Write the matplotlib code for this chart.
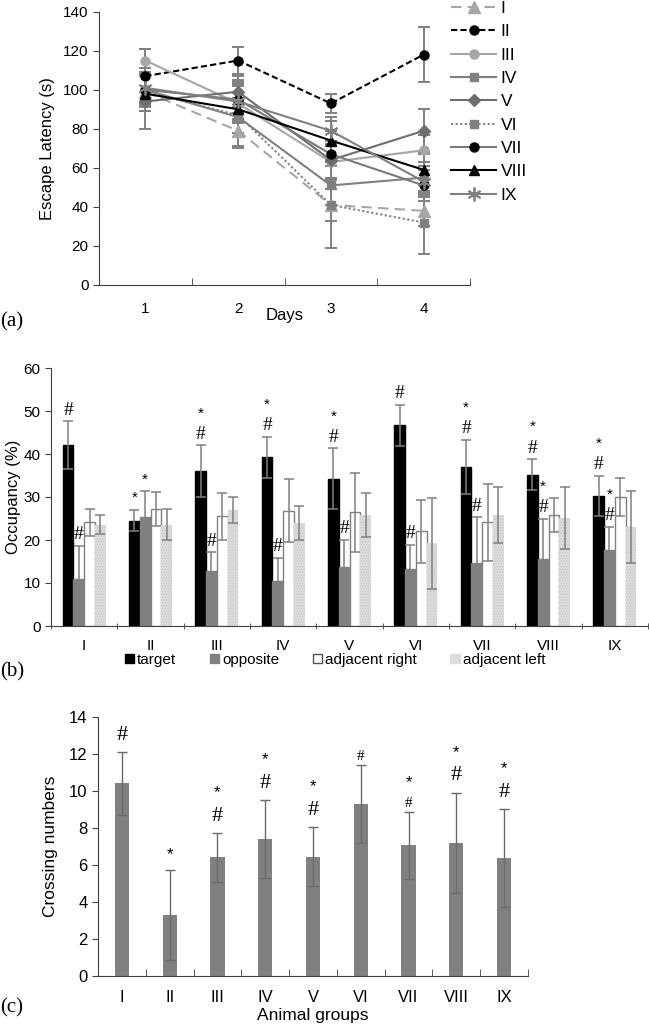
import matplotlib
matplotlib.use("Agg")
import matplotlib.pyplot as plt
import numpy as np
from matplotlib.patches import Patch
from matplotlib.lines import Line2D

plt.rcParams['font.family'] = ['Liberation Sans', 'DejaVu Sans']
plt.rcParams['hatch.linewidth'] = 0.6

# ---------------- data ----------------
days = [1, 2, 3, 4]
day_labels = ['1', '2', '3', '4']
series_names = ['I', 'II', 'III', 'IV', 'V', 'VI', 'VII', 'VIII', 'IX']
lat_I = [99, 79, 41, 38]
lat_II = [107, 115, 93, 118]
lat_III = [115, 93, 63, 69]
lat_IV = [100, 86, 51, 55]
lat_V = [94, 99, 64, 79]
lat_VI = [99, 87, 41, 32]
lat_VII = [100, 95, 67, 51]
lat_VIII = [98, 90, 74, 59]
lat_IX = [101, 94, 79, 53]
err_I = [10, 9, 8, 8]
err_II = [14, 7, 5, 14]
err_III = [6, 10, 8, 8]
err_IV = [8, 10, 10, 8]
err_V = [14, 8, 10, 11]
err_VI = [10, 16, 22, 16]
err_VII = [8, 10, 12, 8]
err_VIII = [9, 12, 10, 8]
err_IX = [10, 10, 7, 8]

groups = ['I', 'II', 'III', 'IV', 'V', 'VI', 'VII', 'VIII', 'IX']
occ_target = [42.1, 24.5, 36.0, 39.2, 34.2, 46.7, 37.0, 35.2, 30.2]
occ_target_err = [5.5, 2.5, 6.0, 4.8, 7.1, 4.8, 6.3, 3.6, 4.7]
occ_opposite = [11.0, 25.3, 12.7, 10.5, 13.7, 13.3, 14.7, 15.5, 17.7]
occ_opposite_err = [7.6, 6.0, 4.4, 5.3, 6.3, 5.6, 10.6, 9.4, 5.3]
occ_adj_right = [24.1, 27.2, 25.5, 26.8, 26.4, 22.0, 24.1, 25.8, 30.0]
occ_adj_right_err = [3.2, 4.0, 5.5, 7.3, 9.2, 7.3, 9.0, 3.9, 4.4]
occ_adj_left = [23.6, 23.6, 27.0, 24.0, 25.8, 19.2, 25.8, 25.1, 23.0]
occ_adj_left_err = [2.1, 3.6, 3.0, 4.0, 5.1, 10.5, 6.5, 7.3, 8.4]
marks_target = ['#', '*', '*#', '*#', '*#', '#', '*#', '*#', '*#']
marks_opposite = ['#', '*', '#', '#', '#', '#', '#', '*#', '*#']

cross = [10.4, 3.3, 6.4, 7.4, 6.45, 9.3, 7.05, 7.2, 6.35]
cross_err = [1.7, 2.45, 1.3, 2.1, 1.6, 2.1, 1.8, 2.7, 2.65]
cross_hash = ['big', 'none', 'big', 'big', 'big', 'small', 'small', 'big', 'big']
cross_star = [False, True, True, True, True, False, True, True, True]

W, H = 649, 1028
fig = plt.figure(figsize=(W / 100, H / 100), dpi=100)

def fx(px):
    return px / W

def fy(py):
    return 1 - py / H

ERRC = '#808080'

# ---------------- panel (a) ----------------
axa = fig.add_axes([fx(99), fy(285), fx(470) - fx(99), fy(11.7) - fy(285)])
styles = [
    dict(color='#a6a6a6', ls=(0, (5, 3)), marker='^', mfc='#a6a6a6', mec='#a6a6a6', ms=8),
    dict(color='#000000', ls=(0, (3, 1.5)), marker='o', mfc='#000000', mec='#000000', ms=6.5),
    dict(color='#a6a6a6', ls='-', marker='o', mfc='#a6a6a6', mec='#a6a6a6', ms=6.5),
    dict(color='#808080', ls='-', marker='s', mfc='#808080', mec='#808080', ms=6),
    dict(color='#6e6e6e', ls='-', marker='D', mfc='#6e6e6e', mec='#6e6e6e', ms=6.5),
    dict(color='#808080', ls=(0, (1, 1.2)), marker='s', mfc='#808080', mec='#808080', ms=6),
    dict(color='#7a7a7a', ls='-', marker='o', mfc='#000000', mec='#000000', ms=6.5),
    dict(color='#000000', ls='-', marker='^', mfc='#000000', mec='#000000', ms=6.5),
    dict(color='#808080', ls='-', marker=(6, 2, 0), mfc='#808080', mec='#808080', ms=10),
]
lat_all = [lat_I, lat_II, lat_III, lat_IV, lat_V, lat_VI, lat_VII, lat_VIII, lat_IX]
err_all = [err_I, err_II, err_III, err_IV, err_V, err_VI, err_VII, err_VIII, err_IX]
handles = []
for name, y, e, st in zip(series_names, lat_all, err_all, styles):
    axa.errorbar(days, y, yerr=e, fmt='none', ecolor=ERRC, elinewidth=1.4,
                 capsize=4, capthick=1.4, zorder=1)
for name, y, e, st in zip(series_names, lat_all, err_all, styles):
    mew = 1.3 if st['marker'] == (6, 2, 0) else 1
    ln, = axa.plot(days, y, color=st['color'], ls=st['ls'], lw=1.5,
                   marker=st['marker'], mfc=st['mfc'], mec=st['mec'],
                   ms=st['ms'], mew=mew, label=name, zorder=3)
    handles.append(ln)
axa.set_xlim(0.5, 4.5)
axa.set_ylim(0, 140)
axa.set_yticks(range(0, 141, 20))
axa.set_xticks(days)
axa.set_xticklabels(day_labels)
axa.set_xticks([0.5, 1.5, 2.5, 3.5, 4.5], minor=True)
axa.tick_params(axis='x', which='major', length=0, pad=12, labelsize=11)
axa.tick_params(axis='x', which='minor', length=5, direction='in', color='#404040')
axa.tick_params(axis='y', length=4, direction='out', labelsize=11, color='#404040')
for s in ['top', 'right']:
    axa.spines[s].set_visible(False)
for s in ['left', 'bottom']:
    axa.spines[s].set_color('#404040')
axa.set_ylabel('Escape Latency (s)', fontsize=12, labelpad=6)
axa.set_xlabel('Days', fontsize=12)
axa.xaxis.set_label_coords(0.5, -0.085)
fig.legend(handles=handles, loc='upper left', bbox_to_anchor=(fx(451), 0.999),
           frameon=False, fontsize=12.5, handlelength=2.6, handletextpad=0.25,
           labelspacing=0.47, borderpad=0, borderaxespad=0)
fig.text(0.0, fy(322), '(a)', family='Liberation Serif', fontsize=15, va='center')

# ---------------- panel (b) ----------------
axb = fig.add_axes([fx(51), fy(626), fx(648) - fx(51), fy(368) - fy(626)])
x = np.arange(len(groups))
bw = 0.161
offs = [-1.5 * bw, -0.5 * bw, 0.5 * bw, 1.5 * bw]
vals = [occ_target, occ_opposite, occ_adj_right, occ_adj_left]
errs = [occ_target_err, occ_opposite_err, occ_adj_right_err, occ_adj_left_err]
fcs = ['#000000', '#808080', '#ffffff', '#dcdcdc']
ecs = ['#000000', '#808080', '#808080', '#dcdcdc']
hatches = [None, None, None, '......']
labels_b = ['target', 'opposite', 'adjacent right', 'adjacent left']
for v, e, o, fc, ec, h, lb in zip(vals, errs, offs, fcs, ecs, hatches, labels_b):
    bars = axb.bar(x + o, v, width=bw, color=fc, edgecolor=ec, linewidth=1.0,
                   hatch=h, zorder=2)
    if h:
        for b in bars:
            b.set_edgecolor('#c4c4c4')
            b.set_linewidth(0)
    axb.errorbar(x + o, v, yerr=e, fmt='none', ecolor=ERRC, elinewidth=1.1,
                 capsize=3.5, capthick=1.1, zorder=3)

def put_marks(ax, xs, tops, marks, hash_off, star_gap, hash_fs, star_fs):
    for xi, t, m in zip(xs, tops, marks):
        if m == '*':
            ax.annotate('*', (xi, t), xytext=(0, hash_off + 0.5), textcoords='offset points',
                        ha='center', va='center', fontsize=star_fs)
        elif m == '#':
            ax.annotate('#', (xi, t), xytext=(0, hash_off), textcoords='offset points',
                        ha='center', va='center', fontsize=hash_fs, family='Liberation Serif')
        elif m == '*#':
            ax.annotate('#', (xi, t), xytext=(0, hash_off), textcoords='offset points',
                        ha='center', va='center', fontsize=hash_fs, family='Liberation Serif')
            ax.annotate('*', (xi, t), xytext=(0, hash_off + star_gap), textcoords='offset points',
                        ha='center', va='center', fontsize=star_fs)

tops_t = [v + e for v, e in zip(occ_target, occ_target_err)]
tops_o = [v + e for v, e in zip(occ_opposite, occ_opposite_err)]
put_marks(axb, x + offs[0], tops_t, marks_target, 8, 15, 14, 11)
put_marks(axb, x + offs[1], tops_o, marks_opposite, 8, 15, 14, 11)

axb.set_xlim(-0.5, len(groups) - 0.5)
axb.set_ylim(0, 60)
axb.set_yticks(range(0, 61, 10))
axb.set_xticks(x)
axb.set_xticklabels(groups)
axb.set_xticks(np.arange(-0.5, len(groups)), minor=True)
axb.tick_params(axis='x', which='major', length=0, pad=9, labelsize=11)
axb.tick_params(axis='x', which='minor', length=4, direction='inout', color='#404040')
axb.tick_params(axis='y', length=4, direction='out', labelsize=11, color='#404040')
for s in ['top', 'right']:
    axb.spines[s].set_visible(False)
for s in ['left', 'bottom']:
    axb.spines[s].set_color('#404040')
axb.set_ylabel('Occupancy (%)', fontsize=12, labelpad=2)
leg_handles = [Patch(facecolor=fc, edgecolor=ec, hatch=h) for fc, ec, h in
               zip(fcs, ['#000000', '#808080', '#505050', '#dcdcdc'], hatches)]
fig.legend(leg_handles, labels_b, loc='center', bbox_to_anchor=(fx(335), fy(660)),
           ncol=4, frameon=False, fontsize=11, handlelength=0.6, handleheight=0.6,
           handletextpad=0.2, columnspacing=2.2, borderpad=0)
fig.text(0.0, fy(672), '(b)', family='Liberation Serif', fontsize=15, va='center')

# ---------------- panel (c) ----------------
axc = fig.add_axes([fx(98), fy(976), fx(528) - fx(98), fy(716.7) - fy(976)])
xc = np.arange(len(groups))
axc.bar(xc, cross, width=0.3, color='#808080', zorder=2)
axc.errorbar(xc, cross, yerr=cross_err, fmt='none', ecolor='#6a6a6a', elinewidth=1.0,
             capsize=3.5, capthick=1.0, zorder=3)
tops_c = [v + e for v, e in zip(cross, cross_err)]
for xi, t, hs, st in zip(xc, tops_c, cross_hash, cross_star):
    if hs == 'big':
        axc.annotate('#', (xi, t), xytext=(0, 12), textcoords='offset points',
                     ha='center', va='center', fontsize=16, family='Liberation Serif')
        if st:
            axc.annotate('*', (xi, t), xytext=(0, 29), textcoords='offset points',
                         ha='center', va='center', fontsize=12)
    elif hs == 'small':
        axc.annotate('#', (xi, t), xytext=(0, 6), textcoords='offset points',
                     ha='center', va='center', fontsize=11, family='Liberation Serif')
        if st:
            axc.annotate('*', (xi, t), xytext=(0, 21), textcoords='offset points',
                         ha='center', va='center', fontsize=12)
    elif st:
        axc.annotate('*', (xi, t), xytext=(0, 11), textcoords='offset points',
                     ha='center', va='center', fontsize=12)
axc.set_xlim(-0.5, len(groups) - 0.5)
axc.set_ylim(0, 14)
axc.set_yticks(range(0, 15, 2))
axc.set_xticks(xc)
axc.set_xticklabels(groups)
axc.set_xticks(np.arange(-0.5, len(groups)), minor=True)
axc.tick_params(axis='x', which='major', length=0, pad=10, labelsize=12)
axc.tick_params(axis='x', which='minor', length=5, direction='in', color='#404040')
axc.tick_params(axis='y', length=4, direction='out', labelsize=12, color='#404040')
for s in ['top', 'right']:
    axc.spines[s].set_visible(False)
for s in ['left', 'bottom']:
    axc.spines[s].set_color('#404040')
axc.set_ylabel('Crossing numbers', fontsize=12.5, labelpad=8)
axc.set_xlabel('Animal groups', fontsize=12.5, labelpad=2)
fig.text(0.0, fy(1008), '(c)', family='Liberation Serif', fontsize=15, va='center')

fig.savefig('out.png', dpi=100)
